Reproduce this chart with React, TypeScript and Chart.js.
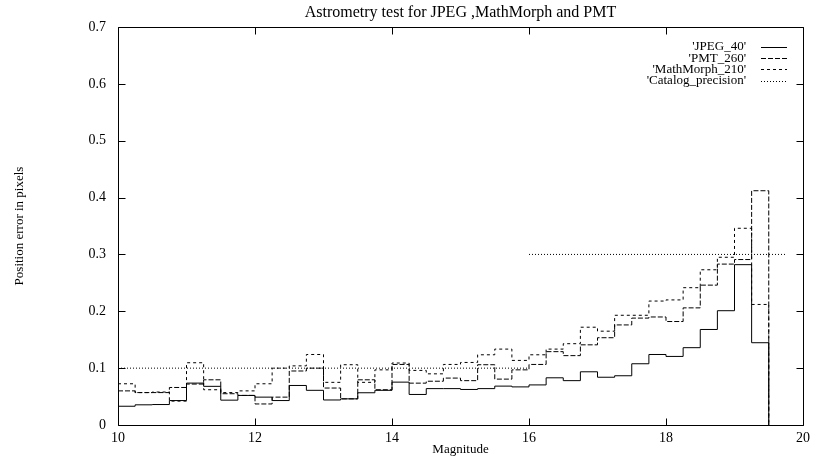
import React, { useEffect, useRef } from 'react';
import { Chart, registerables } from 'chart.js';

Chart.register(...registerables);

const chartTitle = 'Astrometry test for JPEG ,MathMorph and PMT';
const xTitle = 'Magnitude';
const yTitle = 'Position error in pixels';
const seriesLabels = ["'JPEG_40'", "'PMT_260'", "'MathMorph_210'", "'Catalog_precision'"];

// bin starts (step plot); last point drops to zero
const magnitudes = [
  10, 10.25, 10.5, 10.75, 11, 11.25, 11.5, 11.75, 12, 12.25, 12.5, 12.75, 13, 13.25, 13.5, 13.75,
  14, 14.25, 14.5, 14.75, 15, 15.25, 15.5, 15.75, 16, 16.25, 16.5, 16.75, 17, 17.25, 17.5, 17.75,
  18, 18.25, 18.5, 18.75, 19, 19.25, 19.5,
];
const jpeg40 = [
  0.033, 0.0355, 0.036, 0.043, 0.0737, 0.068, 0.0437, 0.052, 0.049, 0.043, 0.0695, 0.061, 0.044, 0.046, 0.0567, 0.061,
  0.0754, 0.0537, 0.064, 0.064, 0.0625, 0.064, 0.0684, 0.067, 0.0705, 0.083, 0.078, 0.0936, 0.084, 0.0866, 0.1077, 0.124,
  0.1206, 0.136, 0.168, 0.201, 0.282, 0.1447, 0,
];
const pmt260 = [
  0.06, 0.057, 0.057, 0.066, 0.072, 0.0795, 0.055, 0.052, 0.037, 0.049, 0.095, 0.1, 0.065, 0.046, 0.0795, 0.062,
  0.1065, 0.0736, 0.077, 0.0825, 0.078, 0.106, 0.0807, 0.097, 0.1065, 0.129, 0.122, 0.141, 0.1535, 0.176, 0.188, 0.19,
  0.182, 0.206, 0.246, 0.283, 0.291, 0.412, 0,
];
const mathMorph210 = [
  0.0725, 0.057, 0.058, 0.042, 0.1095, 0.062, 0.057, 0.06, 0.0725, 0.1, 0.104, 0.124, 0.075, 0.106, 0.075, 0.097,
  0.109, 0.096, 0.09, 0.1065, 0.11, 0.1235, 0.1335, 0.1136, 0.1235, 0.1335, 0.143, 0.172, 0.165, 0.193, 0.193, 0.218,
  0.22, 0.2415, 0.273, 0.295, 0.346, 0.212, 0,
];
// catalog precision: horizontal segments
const catalogStart = [10, 16];
const catalogEnd = [16, 19.75];
const catalogValue = [0.1, 0.3];

const xMin = 10;
const xMax = 20;
const xStep = 2;
const yMin = 0;
const yMax = 0.7;
const yStep = 0.1;

const FONT = "'Liberation Serif', 'Times New Roman', serif";

const toPoints = (ys: number[]) => magnitudes.map((m, i) => ({ x: m, y: ys[i] }));

const catalogPoints = () => {
  const pts: { x: number; y: number | null }[] = [];
  catalogStart.forEach((s, i) => {
    if (i > 0) pts.push({ x: s, y: null });
    pts.push({ x: s, y: catalogValue[i] });
    pts.push({ x: catalogEnd[i], y: catalogValue[i] });
  });
  return pts;
};

const framePlugin = {
  id: 'gnuFrame',
  afterDatasetsDraw(chart: any) {
    const { ctx, chartArea: a, scales } = chart;
    const xs = scales.x;
    const ys = scales.y;
    const L = Math.round(a.left) + 0.5;
    const R = Math.round(a.right) + 0.5;
    const T = Math.round(a.top) + 0.5;
    const B = Math.round(a.bottom) + 0.5;
    ctx.save();
    ctx.strokeStyle = '#000';
    ctx.lineWidth = 1;
    ctx.setLineDash([]);
    ctx.beginPath();
    ctx.rect(L, T, R - L, B - T);
    const tl = 7;
    ys.ticks.forEach((t: any) => {
      const py = Math.round(ys.getPixelForValue(t.value)) + 0.5;
      ctx.moveTo(L, py);
      ctx.lineTo(L + tl, py);
      ctx.moveTo(R - tl, py);
      ctx.lineTo(R, py);
    });
    xs.ticks.forEach((t: any) => {
      const px = Math.round(xs.getPixelForValue(t.value)) + 0.5;
      ctx.moveTo(px, B);
      ctx.lineTo(px, B - tl);
      ctx.moveTo(px, T);
      ctx.lineTo(px, T + tl);
    });
    ctx.stroke();
    ctx.restore();
  },
  afterDraw(chart: any) {
    const { ctx, chartArea: a } = chart;
    ctx.save();
    // title centred over the plot area
    ctx.font = `16px ${FONT}`;
    ctx.fillStyle = '#000';
    ctx.textAlign = 'center';
    ctx.textBaseline = 'middle';
    ctx.fillText(chartTitle, (a.left + a.right) / 2, 13);
    // legend (text right-aligned, sample to its right)
    ctx.font = `13px ${FONT}`;
    ctx.textAlign = 'right';
    const textRight = a.right - 57;
    const lineL = a.right - 42;
    const lineR = a.right - 16;
    chart.data.datasets.forEach((ds: any, i: number) => {
      const yy = a.top + 20 + i * 11.2;
      ctx.fillText(ds.label, textRight, yy);
      ctx.beginPath();
      ctx.strokeStyle = ds.borderColor;
      ctx.lineWidth = ds.borderWidth;
      ctx.setLineDash(ds.borderDash || []);
      ctx.moveTo(lineL, Math.round(yy) + 0.5);
      ctx.lineTo(lineR, Math.round(yy) + 0.5);
      ctx.stroke();
    });
    ctx.restore();
  },
};

export default function App() {
  const ref = useRef<HTMLCanvasElement | null>(null);

  useEffect(() => {
    if (!ref.current) return;
    const line = (label: string, data: any[], dash: number[], stepped: any) => ({
      label,
      data,
      borderColor: '#000',
      backgroundColor: '#000',
      borderWidth: 1,
      borderDash: dash,
      pointRadius: 0,
      fill: false,
      stepped,
      spanGaps: false,
      tension: 0,
    });
    const chart = new Chart(ref.current, {
      type: 'line',
      data: {
        datasets: [
          line(seriesLabels[0], toPoints(jpeg40), [], 'before'),
          line(seriesLabels[1], toPoints(pmt260), [5, 2], 'before'),
          line(seriesLabels[2], toPoints(mathMorph210), [3, 3], 'before'),
          line(seriesLabels[3], catalogPoints(), [1, 2], false),
        ],
      },
      options: {
        animation: false,
        responsive: false,
        devicePixelRatio: 1,
        layout: { padding: { left: 0, right: 9, top: 27, bottom: 0 } },
        plugins: {
          legend: { display: false },
          tooltip: { enabled: false },
          title: { display: false },
        },
        scales: {
          x: {
            type: 'linear',
            min: xMin,
            max: xMax,
            border: { display: false },
            grid: { display: false, drawTicks: false },
            ticks: {
              stepSize: xStep,
              color: '#000',
              padding: 5,
              maxRotation: 0,
              font: { family: FONT, size: 14 },
            },
            title: {
              display: true,
              text: xTitle,
              color: '#000',
              font: { family: FONT, size: 13 },
              padding: { top: 0, bottom: 5 },
            },
            afterFit: (s: any) => {
              s.height = 37;
            },
          },
          y: {
            type: 'linear',
            min: yMin,
            max: yMax,
            border: { display: false },
            grid: { display: false, drawTicks: false },
            ticks: {
              stepSize: yStep,
              color: '#000',
              padding: 12,
              font: { family: FONT, size: 14 },
              callback: (v: any) => (Number(v) === 0 ? '0' : Number(v).toFixed(1)),
            },
            title: {
              display: true,
              text: yTitle,
              color: '#000',
              font: { family: FONT, size: 13 },
              padding: { top: 12, bottom: 0 },
            },
            afterFit: (s: any) => {
              s.width = 118;
            },
          },
        },
      },
      plugins: [framePlugin],
    } as any);
    return () => chart.destroy();
  }, []);

  return (
    <div style={{ position: 'absolute', left: 0, top: 0, width: 815, height: 462, background: '#fff' }}>
      <canvas ref={ref} width={815} height={462} style={{ display: 'block', width: 815, height: 462 }} />
    </div>
  );
}
